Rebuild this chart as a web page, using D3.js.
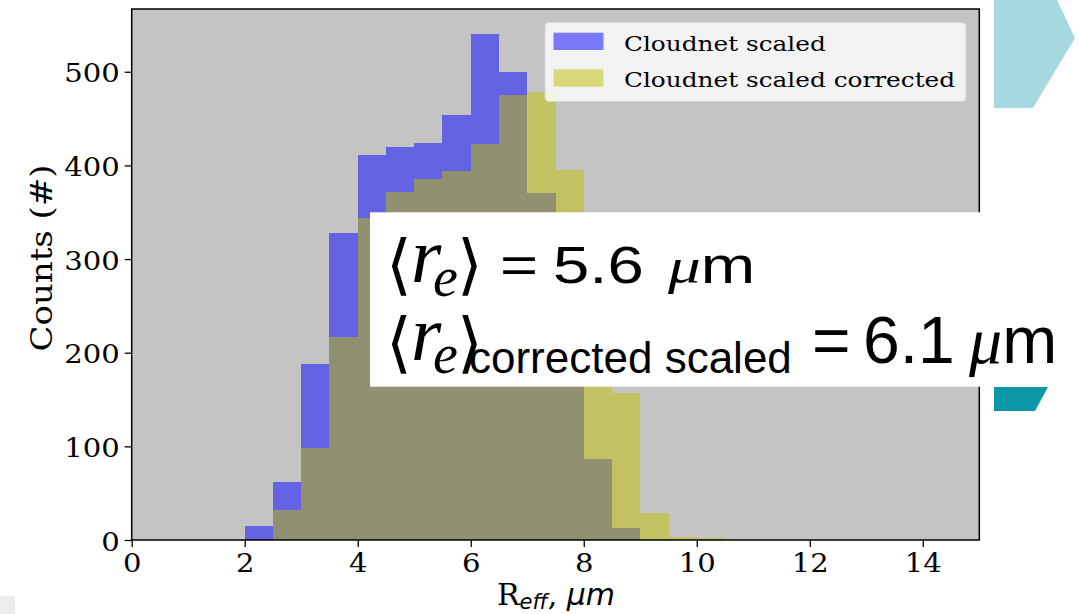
<!DOCTYPE html>
<html>
<head>
<meta charset="utf-8">
<script src="https://cdn.jsdelivr.net/npm/d3@7"></script>
<style>
  html, body { margin: 0; padding: 0; background: #ffffff; }
  svg { display: block; }
</style>
</head>
<body>
<script>
// Histogram bins (left edge of each 0.5 µm bin)
const binStarts = [2.0, 2.5, 3.0, 3.5, 4.0, 4.5, 5.0, 5.5, 6.0, 6.5, 7.0, 7.5, 8.0, 8.5, 9.0, 9.5, 10.0];
const binWidth = 0.5;
// Counts per bin
const scaledCounts    = [15, 62, 188, 328, 411, 420, 424, 454, 540, 500, 371, 225, 87, 13, 0, 0, 0];
const correctedCounts = [0, 32, 98, 217, 344, 372, 385, 394, 423, 475, 478, 395, 250, 157, 29, 3, 2];
const seriesNames = ["Cloudnet scaled", "Cloudnet scaled corrected"];
const xTicks = [0, 2, 4, 6, 8, 10, 12, 14];
const yTicks = [0, 100, 200, 300, 400, 500];

const W = 1079, H = 614;
const plot = { left: 131.7, right: 979.3, top: 9, bottom: 540 };
const SX = 1.12; // horizontal stretch of the tick text

const svg = d3.select("body").append("svg").attr("width", W).attr("height", H);

const x = d3.scaleLinear().domain([0, 15]).range([plot.left, plot.right]);
const y = d3.scaleLinear().domain([0, 567]).range([plot.bottom, plot.top]);

// axes background
svg.append("rect")
  .attr("x", plot.left).attr("y", plot.top)
  .attr("width", plot.right - plot.left).attr("height", plot.bottom - plot.top)
  .attr("fill", "#c4c4c4");

function drawBars(values, color, cls) {
  svg.append("g").attr("class", cls)
    .selectAll("rect")
    .data(values.map((v, i) => ({ x0: binStarts[i], v })))
    .join("rect")
    .attr("x", d => Math.round(x(d.x0)))
    .attr("width", d => Math.round(x(d.x0 + binWidth)) - Math.round(x(d.x0)))
    .attr("y", d => Math.round(y(d.v)))
    .attr("height", d => Math.round(y(0)) - Math.round(y(d.v)))
    .attr("fill", color)
    .attr("fill-opacity", 0.5)
    .attr("shape-rendering", "crispEdges");
}
drawBars(scaledCounts, "#0000ff", "scaled");
drawBars(correctedCounts, "#bfbf00", "corrected");

// axes
const serif = "'DejaVu Serif', serif";
const gx = svg.append("g").attr("transform", `translate(0,${plot.bottom})`)
  .call(d3.axisBottom(x).tickValues(xTicks).tickSize(7).tickFormat(d3.format("d")));
gx.select(".domain").remove();
gx.selectAll(".tick line").attr("stroke", "#000").attr("stroke-width", 1.3);
gx.selectAll(".tick text")
  .attr("y", null).attr("dy", null)
  .attr("transform", `translate(0,32) scale(${SX},1)`)
  .attr("fill", "#000").style("font-family", serif).style("font-size", "26px");

const gy = svg.append("g").attr("transform", `translate(${plot.left},0)`)
  .call(d3.axisLeft(y).tickValues(yTicks).tickSize(7));
gy.select(".domain").remove();
gy.selectAll(".tick line").attr("stroke", "#000").attr("stroke-width", 1.3);
gy.selectAll(".tick text")
  .attr("x", null).attr("dy", null)
  .attr("transform", `translate(-12,10) scale(${SX},1)`)
  .attr("fill", "#000").style("font-family", serif).style("font-size", "26px");

// frame
svg.append("rect")
  .attr("x", plot.left).attr("y", plot.top)
  .attr("width", plot.right - plot.left).attr("height", plot.bottom - plot.top)
  .attr("fill", "none").attr("stroke", "#000").attr("stroke-width", 1.5);

// axis labels
svg.append("text")
  .attr("transform", `translate(52,258) scale(0.88,1) rotate(-90)`)
  .attr("text-anchor", "middle")
  .style("font-family", serif).style("font-size", "34px")
  .text("Counts (#)");

const xl = svg.append("text")
  .attr("x", 556).attr("y", 605)
  .attr("text-anchor", "middle")
  .style("font-family", serif).style("font-size", "30px");
xl.append("tspan").text("R");
xl.append("tspan").attr("dy", 4).style("font-family", "'DejaVu Sans'").style("font-style", "italic").style("font-size", "21px").text("eff");
xl.append("tspan").attr("dy", -4).text(", ");
xl.append("tspan").style("font-family", "'DejaVu Sans'").style("font-style", "italic").text("μm");

// legend
const leg = svg.append("g");
leg.append("rect")
  .attr("x", 545).attr("y", 22.5).attr("width", 421).attr("height", 79).attr("rx", 4)
  .attr("fill", "#ffffff").attr("fill-opacity", 0.8)
  .attr("stroke", "#d6d6d6").attr("stroke-width", 1);
const legColors = ["#0000ff", "#bfbf00"];
seriesNames.forEach((name, i) => {
  const yy = 32.7 + i * 36.6;
  leg.append("rect").attr("x", 553.5).attr("y", yy).attr("width", 50).attr("height", 17.3)
    .attr("fill", legColors[i]).attr("fill-opacity", 0.5);
  leg.append("text")
    .attr("transform", `translate(624,${yy + 17.8}) scale(1.18,1)`)
    .style("font-family", serif).style("font-size", "21px")
    .text(name);
});

// annotation box with mean radii
const ann = svg.append("g");
ann.append("rect").attr("x", 370).attr("y", 212.3).attr("width", W - 370).attr("height", 174.4).attr("fill", "#ffffff");

const sansFont = "'Liberation Sans', Arial, sans-serif";
const mathItalic = "'Liberation Serif', serif";

// ⟨r_e⟩ with an optional subscript label, as one text element
function bracketedR(baseY, subY, label) {
  const t = ann.append("text").attr("x", 386).attr("y", baseY + 5)
    .style("font-family", "'DejaVu Sans'").style("font-size", "66px");
  t.append("tspan").text("⟨");
  t.append("tspan").attr("x", 411).attr("y", baseY)
    .style("font-family", mathItalic).style("font-style", "italic").style("font-size", "78px").text("r");
  t.append("tspan").attr("x", 433).attr("y", subY)
    .style("font-family", mathItalic).style("font-style", "italic").style("font-size", "56px").text("e");
  t.append("tspan").attr("x", 457).attr("y", baseY + 5).text("⟩");
  if (label) {
    t.append("tspan").attr("x", 469).attr("y", subY)
      .style("font-family", sansFont).style("font-size", "44px").text(label);
  }
}
// value part "= v μm"; xs are the positions of the value and of "μm"
function valuePart(v, px, py, size, sx, xs) {
  const t = ann.append("text")
    .attr("transform", `translate(${px},${py}) scale(${sx},1)`)
    .style("font-family", sansFont).style("font-size", size + "px");
  t.append("tspan").attr("x", 0).text("=");
  t.append("tspan").attr("x", xs[0]).text(v);
  t.append("tspan").attr("x", xs[1]).style("font-family", mathItalic).style("font-style", "italic").text("μ");
  t.append("tspan").text("m");
}
// line 1
bracketedR(282, 296, null);
valuePart("5.6", 500, 283, 51, 1.28, [(553 - 500) / 1.28, (668 - 500) / 1.28]);
// line 2
bracketedR(360, 373, "corrected scaled");
valuePart("6.1", 812, 363, 66, 1.0, [863 - 812, 969 - 812]);

// side decorations
svg.append("polygon")
  .attr("points", "994,0 1057,0 1075,38 1033,108 994,108")
  .attr("fill", "#a6d9df");
svg.append("polygon")
  .attr("points", "994,387 1048,387 1035,411 994,411")
  .attr("fill", "#0a97a7");
svg.append("rect").attr("x", 0).attr("y", 596).attr("width", 15).attr("height", 18).attr("fill", "#ececec");
</script>
</body>
</html>
